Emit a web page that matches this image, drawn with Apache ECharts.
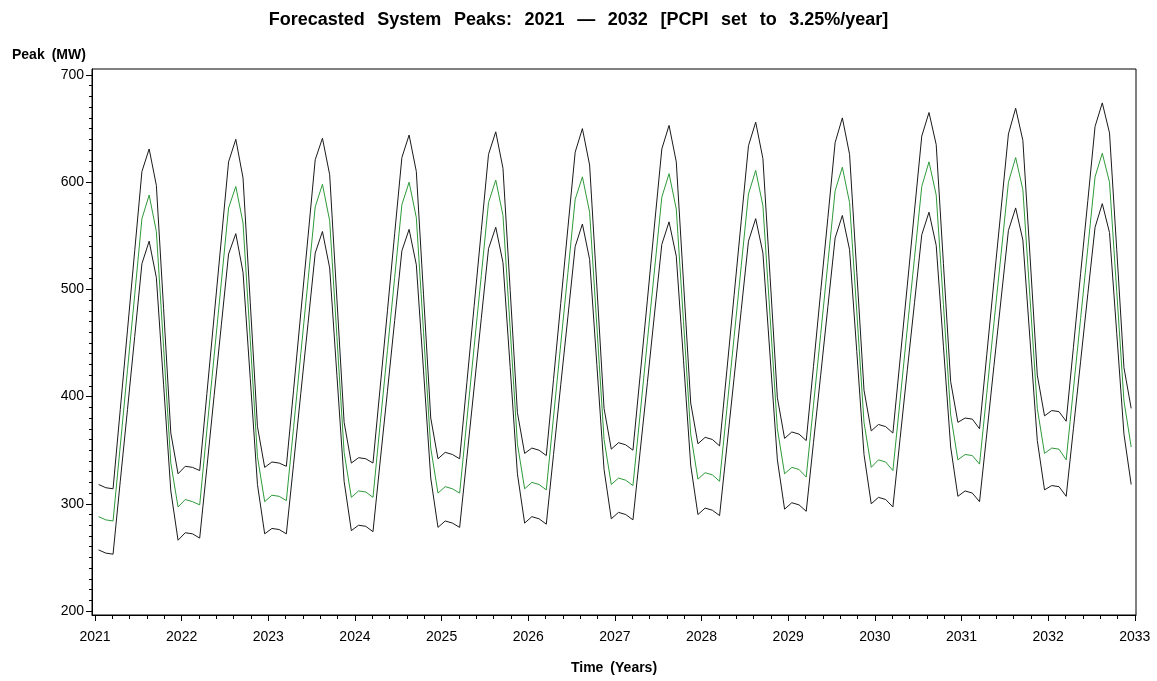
<!DOCTYPE html>
<html><head><meta charset="utf-8">
<script src="https://cdn.jsdelivr.net/npm/echarts@6/dist/echarts.min.js"></script>
<style>html,body{margin:0;padding:0;background:#fff}#c{width:1157px;height:681px}</style>
</head><body><div id="c"></div>
<script>
// ---- data ----
const years = [2021, 2022, 2023, 2024, 2025, 2026, 2027, 2028, 2029, 2030, 2031, 2032];
const months = ['Jan','Feb','Mar','Apr','May','Jun','Jul','Aug','Sep','Oct','Nov','Dec'];
// upper bound (black)
const upperPeak = [
  [318, 315, 314, 388, 462, 536, 610, 631, 597, 482, 366, 328],
  [335, 334, 331, 403, 475, 547, 619, 640, 604, 488, 372, 334],
  [339, 338, 335, 406, 478, 549, 621, 641, 607, 491, 376, 338],
  [343, 342, 338, 409, 480, 552, 623, 644, 610, 495, 380, 342],
  [348, 346, 342, 413, 484, 555, 626, 647, 613, 499, 385, 347],
  [352, 350, 345, 416, 487, 558, 628, 650, 616, 503, 389, 351],
  [357, 355, 350, 420, 490, 561, 631, 653, 619, 507, 394, 356],
  [362, 360, 354, 424, 494, 564, 634, 656, 622, 511, 399, 361],
  [367, 365, 359, 428, 498, 567, 637, 660, 626, 516, 406, 368],
  [374, 372, 366, 435, 504, 574, 643, 665, 635, 524, 414, 376],
  [380, 379, 370, 439, 508, 576, 645, 669, 639, 530, 420, 382],
  [387, 386, 377, 446, 515, 583, 652, 674, 646, 537, 427, 389]
];
// forecast (green)
const forecastPeak = [
  [288, 285, 284, 354, 425, 495, 566, 588, 554, 446, 338, 297],
  [304, 302, 299, 369, 438, 507, 576, 596, 562, 453, 344, 302],
  [308, 307, 303, 371, 440, 508, 577, 598, 564, 456, 348, 306],
  [312, 311, 306, 375, 443, 511, 579, 600, 567, 460, 352, 310],
  [316, 314, 310, 378, 446, 513, 581, 602, 569, 463, 356, 314],
  [320, 318, 313, 381, 449, 516, 584, 605, 572, 466, 360, 318],
  [324, 322, 317, 384, 452, 519, 586, 608, 575, 470, 365, 323],
  [329, 327, 321, 388, 455, 522, 589, 611, 578, 474, 370, 328],
  [334, 332, 325, 392, 458, 525, 592, 614, 581, 479, 376, 334],
  [341, 339, 331, 397, 464, 530, 596, 619, 588, 486, 383, 341],
  [346, 345, 337, 403, 469, 534, 600, 623, 593, 491, 389, 347],
  [352, 351, 341, 407, 473, 539, 605, 627, 600, 498, 396, 353]
];
// lower bound (black)
const lowerPeak = [
  [257, 254, 253, 321, 388, 456, 524, 545, 511, 411, 312, 266],
  [273, 272, 268, 334, 401, 467, 533, 552, 516, 417, 318, 272],
  [277, 276, 272, 337, 403, 468, 534, 554, 520, 420, 321, 275],
  [280, 279, 274, 340, 405, 471, 536, 556, 523, 424, 324, 278],
  [284, 282, 278, 343, 408, 473, 538, 558, 525, 427, 328, 282],
  [288, 286, 281, 346, 411, 475, 540, 561, 528, 430, 332, 286],
  [292, 290, 285, 349, 413, 478, 542, 563, 531, 434, 336, 290],
  [296, 294, 289, 353, 417, 481, 545, 566, 534, 437, 341, 295],
  [301, 299, 293, 357, 420, 484, 548, 569, 537, 442, 346, 300],
  [306, 304, 297, 361, 425, 488, 551, 572, 541, 447, 353, 307],
  [312, 310, 302, 365, 429, 492, 555, 576, 546, 452, 359, 313],
  [317, 316, 307, 370, 433, 496, 558, 580, 553, 459, 365, 318]
];
const xTickLabels = [2021, 2022, 2023, 2024, 2025, 2026, 2027, 2028, 2029, 2030, 2031, 2032, 2033];
const yTickLabels = [200, 300, 400, 500, 600, 700];

// ---- build ----
function toSeries(rows) {
  const out = [];
  rows.forEach((row, yi) => row.forEach((v, mi) => out.push([years[yi] + (mi + 0.5) / months.length, v])));
  return out;
}
const xMinor = [];
for (let y = xTickLabels[0]; y < xTickLabels[xTickLabels.length - 1]; y++) {
  for (let k = 1; k < 5; k++) xMinor.push(+(y + k * 0.2).toFixed(2));
}
const yMinor = [];
for (let v = yTickLabels[0]; v < yTickLabels[yTickLabels.length - 1]; v += 10) {
  if (v % 100 !== 0) yMinor.push(v);
}
const FONT = "'Liberation Sans', Arial, Helvetica, sans-serif";
const xMin = 2020.9654, xMax = 2033.014;
const yMin = 196.27, yMax = 705.6;
const axisColor = '#000';
const SP = '\u2002\u2009';

const chart = echarts.init(document.getElementById('c'), null, { renderer: 'canvas' });
chart.setOption({
  animation: false,
  backgroundColor: '#fff',
  textStyle: { fontFamily: FONT },
  title: {
    text: ['Forecasted', 'System', 'Peaks:', '2021', '\u2014', '2032', '[PCPI', 'set', 'to', '3.25%/year]'].join(SP),
    left: 'center', top: 6,
    textStyle: { fontFamily: FONT, fontSize: 18, fontWeight: 'bold', color: '#000' }
  },
  grid: { left: 92, right: 21, top: 69, bottom: 66, show: true, borderColor: axisColor, borderWidth: 1,
          backgroundColor: 'transparent', containLabel: false, outerBoundsMode: 'none' },
  xAxis: [
    { type: 'value', min: xMin, max: xMax, position: 'bottom',
      axisLine: { show: true, onZero: false, lineStyle: { color: axisColor, width: 1 } },
      axisTick: { show: true, length: 6, customValues: xTickLabels, lineStyle: { color: axisColor } },
      axisLabel: { show: true, customValues: xTickLabels, formatter: v => String(Math.round(v)),
                   color: '#000', fontSize: 14, margin: 15, fontFamily: FONT },
      splitLine: { show: false } },
    { type: 'value', min: xMin, max: xMax, position: 'bottom',
      axisLine: { show: false, onZero: false },
      axisTick: { show: true, length: 4, customValues: xMinor, lineStyle: { color: axisColor } },
      axisLabel: { show: false }, splitLine: { show: false } }
  ],
  yAxis: [
    { type: 'value', min: yMin, max: yMax, position: 'left',
      axisLine: { show: true, onZero: false, lineStyle: { color: axisColor, width: 1 } },
      axisTick: { show: true, length: 6, customValues: yTickLabels, lineStyle: { color: axisColor } },
      axisLabel: { show: true, customValues: yTickLabels, color: '#000', fontSize: 14, margin: 8, fontFamily: FONT },
      splitLine: { show: false } },
    { type: 'value', min: yMin, max: yMax, position: 'left',
      axisLine: { show: false, onZero: false },
      axisTick: { show: true, length: 3, customValues: yMinor, lineStyle: { color: axisColor } },
      axisLabel: { show: false }, splitLine: { show: false } }
  ],
  graphic: [
    { type: 'text', x: 12, y: 55, style: { text: 'Peak\u2002(MW)', font: "bold 14px 'Liberation Sans', Arial, sans-serif",
      fill: '#000', align: 'left', verticalAlign: 'middle' } },
    { type: 'text', x: 614, y: 668, style: { text: 'Time\u2002(Years)', font: "bold 14px 'Liberation Sans', Arial, sans-serif",
      fill: '#000', align: 'center', verticalAlign: 'middle' } }
  ],
  series: [
    { name: 'Upper', type: 'line', xAxisIndex: 0, yAxisIndex: 0, data: toSeries(upperPeak), showSymbol: false,
      lineStyle: { color: '#1a1a1a', width: 1 }, z: 2 },
    { name: 'Lower', type: 'line', xAxisIndex: 0, yAxisIndex: 0, data: toSeries(lowerPeak), showSymbol: false,
      lineStyle: { color: '#1a1a1a', width: 1 }, z: 2 },
    { name: 'Forecast', type: 'line', xAxisIndex: 0, yAxisIndex: 0, data: toSeries(forecastPeak), showSymbol: false,
      lineStyle: { color: '#2f9a3a', width: 1 }, z: 3 }
  ]
});
</script>
</body></html>
